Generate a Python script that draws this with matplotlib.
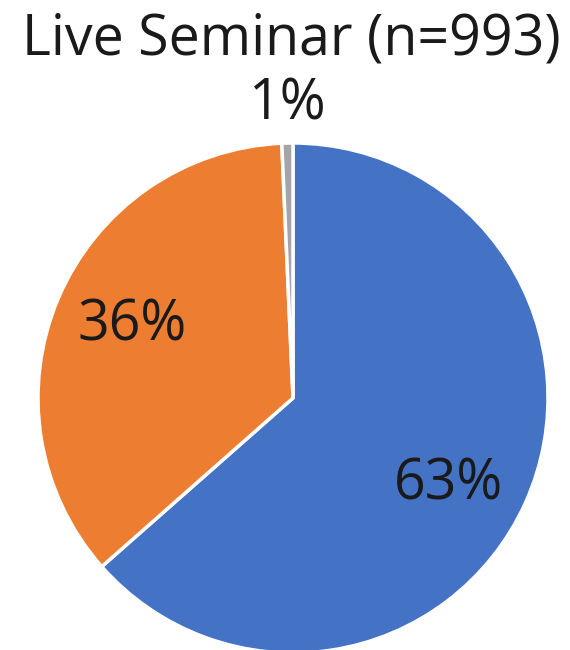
import numpy as np
import matplotlib
matplotlib.use("Agg")
import matplotlib.pyplot as plt

title = "Live Seminar (n=993)"
categories = ["Blue", "Orange", "Gray"]
values = [63.5, 35.8, 0.7]
labels = ["63%", "36%", "1%"]
colors = ["#4472C4", "#ED7D31", "#A5A5A5"]
label_dist = [0.70, 0.69, 1.15]
label_ang_offset = [-5.0, -1.0, 0.0]

plt.rcParams['font.family'] = ['Open Sans', 'DejaVu Sans']

fig = plt.figure(figsize=(5.7, 6.5), dpi=100)
ax = fig.add_axes([38/570, -3/650, 510/570, 510/650])
wedges, _ = ax.pie(values, colors=colors, startangle=90, counterclock=False,
                   radius=1.0, wedgeprops=dict(edgecolor="white", linewidth=2.5))
ax.set_xlim(-1, 1)
ax.set_ylim(-1, 1)
ax.set_aspect("equal")

for w, lab, d, off in zip(wedges, labels, label_dist, label_ang_offset):
    ang = np.deg2rad((w.theta1 + w.theta2) / 2 + off)
    ax.text(d * np.cos(ang), d * np.sin(ang), lab, ha="center", va="center",
            fontsize=40, color="#1a1a1a")

fig.text(291/570, 1 - 40/650, title, ha="center", va="center", fontsize=40, color="#1a1a1a")
fig.savefig("out.png", dpi=100)
